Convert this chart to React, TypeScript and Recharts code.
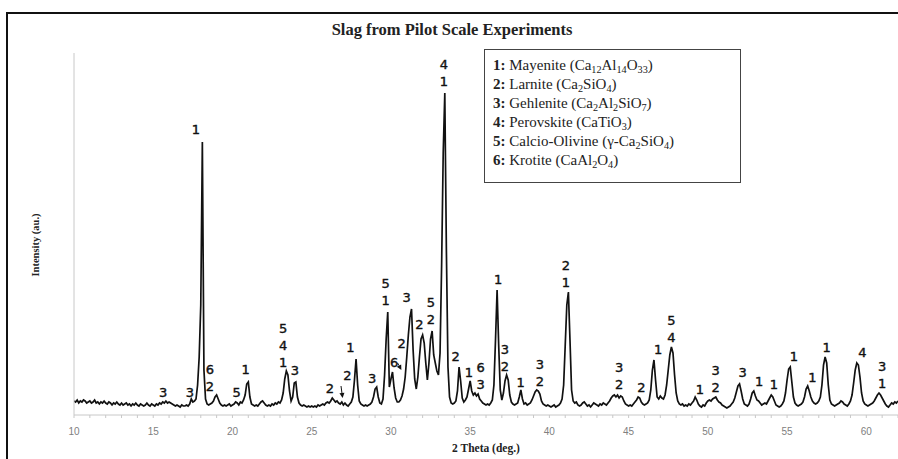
import React from "react";
import {
  ComposedChart,
  Line,
  Scatter,
  XAxis,
  YAxis,
  ReferenceLine,
} from "recharts";

// Diffractogram, 2θ from 10° in 0.1° steps (one row per degree)
const THETA_START = 10;
const THETA_STEP = 0.1;
const INTENSITY: number[][] = [
  [14, 13, 15, 12, 14, 13, 15, 14, 12, 13], // 10
  [14, 12, 13, 15, 12, 13, 11, 13, 12, 14],
  [12, 11, 13, 12, 10, 12, 11, 13, 11, 10],
  [12, 10, 11, 12, 10, 11, 9, 11, 10, 12],
  [10, 9, 11, 10, 9, 10, 12, 10, 9, 11],
  [10, 9, 11, 10, 12, 11, 13, 12, 14, 12], // 15
  [13, 12, 11, 10, 9, 10, 9, 8, 10, 9],
  [9, 10, 9, 11, 16, 13, 14, 16, 30, 58],
  [110, 273, 45, 16, 11, 10, 11, 12, 14, 18],
  [20, 16, 12, 10, 9, 10, 9, 10, 11, 9],
  [10, 11, 13, 12, 10, 13, 12, 15, 20, 31], // 20
  [33, 18, 11, 10, 9, 10, 9, 11, 13, 14],
  [12, 10, 9, 10, 9, 11, 10, 12, 11, 13],
  [12, 15, 22, 36, 44, 40, 24, 14, 18, 32],
  [33, 18, 12, 10, 9, 10, 9, 8, 9, 8],
  [9, 8, 9, 8, 10, 9, 10, 11, 10, 12], // 25
  [13, 12, 14, 17, 15, 13, 14, 12, 11, 13],
  [10, 12, 10, 9, 11, 13, 18, 35, 56, 30],
  [14, 11, 10, 9, 10, 9, 10, 11, 13, 18],
  [26, 28, 18, 12, 11, 16, 40, 76, 103, 28],
  [36, 43, 27, 17, 13, 13, 15, 19, 26, 38], // 30
  [58, 80, 98, 106, 65, 36, 26, 38, 58, 76],
  [80, 72, 52, 35, 52, 76, 84, 60, 52, 44],
  [40, 62, 150, 262, 322, 165, 48, 18, 12, 11],
  [12, 14, 24, 48, 34, 17, 13, 15, 18, 26],
  [34, 24, 20, 22, 19, 21, 16, 14, 12, 11], // 35
  [10, 11, 10, 12, 15, 30, 75, 125, 70, 25],
  [15, 22, 34, 40, 35, 20, 13, 11, 10, 11],
  [12, 18, 25, 16, 11, 12, 10, 11, 12, 15],
  [19, 23, 25, 24, 21, 14, 11, 10, 9, 10],
  [9, 8, 9, 10, 8, 9, 10, 12, 16, 30], // 40
  [70, 110, 123, 75, 25, 14, 12, 13, 10, 9],
  [10, 12, 13, 11, 9, 10, 8, 10, 12, 11],
  [10, 9, 11, 10, 12, 11, 10, 12, 14, 17],
  [19, 20, 18, 20, 17, 19, 18, 14, 11, 10],
  [9, 10, 9, 11, 13, 15, 18, 17, 13, 11], // 45
  [10, 11, 12, 15, 25, 45, 55, 35, 18, 16],
  [19, 17, 16, 20, 30, 45, 60, 68, 62, 40],
  [22, 14, 11, 10, 11, 9, 10, 9, 11, 10],
  [12, 14, 18, 15, 11, 9, 8, 10, 9, 12],
  [14, 15, 14, 16, 17, 18, 15, 13, 12, 10], // 50
  [9, 8, 7, 8, 9, 11, 13, 17, 23, 29],
  [31, 24, 16, 11, 10, 9, 11, 16, 22, 24],
  [19, 15, 14, 12, 10, 11, 12, 11, 14, 17],
  [20, 18, 14, 10, 9, 8, 9, 11, 14, 22],
  [35, 46, 48, 33, 18, 12, 10, 9, 10, 11], // 55
  [13, 18, 26, 29, 24, 18, 14, 12, 11, 12],
  [14, 18, 30, 50, 58, 52, 30, 15, 11, 10],
  [9, 10, 11, 12, 14, 13, 11, 10, 9, 11],
  [14, 20, 32, 45, 52, 50, 38, 22, 14, 11],
  [10, 9, 10, 11, 12, 14, 17, 20, 22, 20], // 60
  [17, 14, 11, 9, 8, 10, 12, 11, 13, 12],
  [14], // 62
];

// Phase labels: 2θ, intensity of the lowest line, phase numbers top to bottom
const PEAK_THETA = [
  15.63, 17.32, 17.7, 18.58, 20.26, 20.83, 23.2, 23.94, 26.15, 27.25, 27.45,
  28.82, 29.66, 30.99, 30.2, 30.67, 31.79, 32.52, 33.34, 34.08, 34.92, 35.66,
  36.77, 37.19, 38.18, 39.4, 41.04, 44.4, 45.8, 46.86, 47.7, 49.5, 50.49,
  52.19, 53.24, 54.16, 55.43, 56.6, 57.49, 59.75, 61.0,
];
const PEAK_LABEL_Y = [
  23, 23, 286, 29, 23, 46, 53, 45, 27, 40, 68, 37, 115, 118, 53, 72, 91, 96,
  334, 59, 43, 31, 136, 49, 33, 34, 133, 31, 28, 66, 78, 26, 28, 43, 34, 31,
  59, 38, 68, 63, 32,
];
const PEAK_PHASES = [
  "3", "3", "1", "62", "5", "1", "541", "3", "2", "2", "1", "3", "51", "3",
  "6", "2", "2", "52", "41", "2", "1", "63", "1", "32", "1", "32", "21", "32",
  "2", "1", "54", "1", "32", "3", "1", "1", "1", "1", "1", "4", "31",
];

// Pointer arrows [from 2θ, from intensity, to 2θ, to intensity]
const ARROWS = [
  [26.85, 29, 26.95, 17],
  [30.42, 52, 30.66, 45],
];

const X_TICKS = Array.from({ length: 53 }, (_, i) => 10 + i);

const PHASES = [
  { num: "1", name: "Mayenite", formula: [["Ca"], ["12", 1], ["Al"], ["14", 1], ["O"], ["33", 1]] },
  { num: "2", name: "Larnite", formula: [["Ca"], ["2", 1], ["SiO"], ["4", 1]] },
  { num: "3", name: "Gehlenite", formula: [["Ca"], ["2", 1], ["Al"], ["2", 1], ["SiO"], ["7", 1]] },
  { num: "4", name: "Perovskite", formula: [["CaTiO"], ["3", 1]] },
  { num: "5", name: "Calcio-Olivine", formula: [["γ-Ca"], ["2", 1], ["SiO"], ["4", 1]] },
  { num: "6", name: "Krotite", formula: [["CaAl"], ["2", 1], ["O"], ["4", 1]] },
];

const pattern = INTENSITY.flat().map((v, i) => ({
  t: +(THETA_START + i * THETA_STEP).toFixed(1),
  v,
}));

const peakLabels = PEAK_THETA.map((t, i) => ({
  t,
  v: PEAK_LABEL_Y[i],
  lines: PEAK_PHASES[i].split(""),
}));

const serif = "'Liberation Serif', 'DejaVu Serif', serif";

const PeakLabel = (props: any) => {
  const { cx, cy, payload } = props;
  const n = payload.lines.length;
  return (
    <g>
      {payload.lines.map((s: string, i: number) => (
        <text
          key={i}
          x={cx}
          y={cy - (n - 1 - i) * 17}
          textAnchor="middle"
          dominantBaseline="central"
          fontFamily="'DejaVu Sans', sans-serif"
          fontSize={13}
          fill="#111"
          stroke="#111"
          strokeWidth={0.4}
        >
          {s}
        </text>
      ))}
    </g>
  );
};

const Arrow = (props: any) => {
  const { x1, y1, x2, y2 } = props;
  const ang = Math.atan2(y2 - y1, x2 - x1);
  const hx = x2 - 5 * Math.cos(ang);
  const hy = y2 - 5 * Math.sin(ang);
  const px = 2.5 * Math.sin(ang);
  const py = -2.5 * Math.cos(ang);
  return (
    <g>
      <line x1={x1} y1={y1} x2={hx} y2={hy} stroke="#111" strokeWidth={1} />
      <polygon
        points={`${x2},${y2} ${hx + px},${hy + py} ${hx - px},${hy - py}`}
        fill="#111"
      />
    </g>
  );
};

export default function App() {
  return (
    <div
      style={{
        position: "absolute",
        left: 0,
        top: 0,
        width: 898,
        height: 459,
        background: "#fff",
        overflow: "hidden",
      }}
    >
      <div
        style={{
          position: "absolute",
          left: 6,
          top: 12,
          width: 900,
          height: 460,
          borderLeft: "2px solid #111",
          borderTop: "2px solid #111",
        }}
      />
      <div
        style={{
          position: "absolute",
          left: 252,
          width: 400,
          top: 20,
          textAlign: "center",
          fontFamily: serif,
          fontWeight: "bold",
          fontSize: 16.5,
          color: "#222",
        }}
      >
        Slag from Pilot Scale Experiments
      </div>

      <ComposedChart
        width={898}
        height={459}
        margin={{ top: 53, right: 0, bottom: 14, left: 73 }}
      >
        <XAxis
          type="number"
          dataKey="t"
          domain={[10, 62]}
          ticks={X_TICKS}
          interval={0}
          allowDataOverflow
          tickFormatter={(t: number) => (t % 5 === 0 ? String(t) : "")}
          tickSize={3}
          tickMargin={10}
          height={30}
          stroke="#c8c8c8"
          tick={{ fill: "#808080", fontSize: 10, fontFamily: "'Liberation Sans', Arial, sans-serif" }}
        />
        <YAxis
          type="number"
          domain={[0, 362]}
          allowDataOverflow
          width={1}
          tick={false}
          tickLine={false}
          stroke="#c8c8c8"
        />
        <Line
          data={pattern}
          dataKey="v"
          type="linear"
          stroke="#111"
          strokeWidth={1.7}
          dot={false}
          isAnimationActive={false}
        />
        <Scatter
          data={peakLabels}
          dataKey="v"
          shape={<PeakLabel />}
          isAnimationActive={false}
        />
        {ARROWS.map((a, i) => (
          <ReferenceLine
            key={i}
            segment={[
              { x: a[0], y: a[1] },
              { x: a[2], y: a[3] },
            ]}
            shape={<Arrow />}
          />
        ))}
      </ComposedChart>

      <div
        style={{
          position: "absolute",
          left: 484,
          top: 49,
          width: 257,
          height: 134,
          boxSizing: "border-box",
          border: "1px solid #444",
          background: "#fff",
          padding: "6px 0 0 8px",
          fontFamily: serif,
          fontSize: 15,
          lineHeight: "19px",
          color: "#222",
        }}
      >
        {PHASES.map((p) => (
          <div key={p.num}>
            <b>{p.num}:</b> {p.name} (
            {p.formula.map((f, j) =>
              f[1] ? (
                <span
                  key={j}
                  style={{ fontSize: "0.68em", verticalAlign: "-0.3em", lineHeight: 0 }}
                >
                  {f[0]}
                </span>
              ) : (
                <span key={j}>{f[0]}</span>
              )
            )}
            )
          </div>
        ))}
      </div>

      <div
        style={{
          position: "absolute",
          left: 35,
          top: 245,
          transform: "translate(-50%, -50%) rotate(-90deg)",
          whiteSpace: "nowrap",
          fontFamily: serif,
          fontWeight: "bold",
          fontSize: 10.5,
          color: "#222",
        }}
      >
        Intensity (au.)
      </div>
      <div
        style={{
          position: "absolute",
          left: 386,
          width: 200,
          top: 442,
          textAlign: "center",
          fontFamily: serif,
          fontWeight: "bold",
          fontSize: 11.5,
          color: "#222",
        }}
      >
        2 Theta (deg.)
      </div>
    </div>
  );
}
